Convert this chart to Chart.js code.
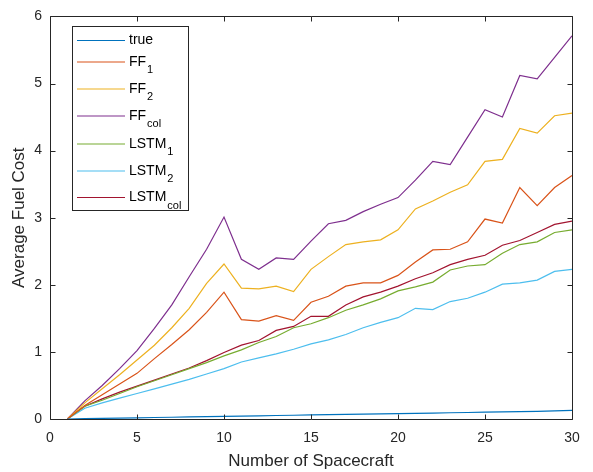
<!DOCTYPE html>
<html>
<head>
<meta charset="utf-8">
<script src="https://cdn.jsdelivr.net/npm/chart.js@4/dist/chart.umd.min.js"></script>
<style>
  html, body { margin: 0; padding: 0; background: #fff; }
  #wrap { width: 593px; height: 472px; position: relative; }
</style>
</head>
<body>
<div id="wrap"><canvas id="fuelChart"></canvas></div>
<script>
// Number of spacecraft (x values)
const spacecraft = [1, 2, 3, 4, 5, 6, 7, 8, 9, 10, 11, 12, 13, 14, 15, 16, 17, 18, 19, 20, 21, 22, 23, 24, 25, 26, 27, 28, 29, 30];

// Average fuel cost per method
const trueCost = [0, 0.005, 0.009, 0.013, 0.018, 0.022, 0.026, 0.031, 0.035, 0.04, 0.044, 0.048, 0.052, 0.056, 0.06, 0.064, 0.068, 0.072, 0.076, 0.08, 0.085, 0.089, 0.093, 0.097, 0.101, 0.106, 0.11, 0.115, 0.12, 0.13];
const ff1 = [0, 0.2, 0.36, 0.52, 0.68, 0.9, 1.11, 1.33, 1.59, 1.89, 1.48, 1.46, 1.54, 1.47, 1.74, 1.83, 1.98, 2.03, 2.03, 2.14, 2.34, 2.52, 2.53, 2.64, 2.98, 2.92, 3.45, 3.18, 3.45, 3.63];
const ff2 = [0, 0.24, 0.45, 0.66, 0.88, 1.1, 1.36, 1.65, 2.02, 2.31, 1.95, 1.94, 1.98, 1.9, 2.23, 2.42, 2.6, 2.64, 2.67, 2.82, 3.13, 3.25, 3.38, 3.49, 3.84, 3.87, 4.33, 4.26, 4.52, 4.56];
const ffCol = [0, 0.27, 0.5, 0.75, 1.02, 1.35, 1.7, 2.12, 2.53, 3.01, 2.38, 2.23, 2.4, 2.38, 2.65, 2.91, 2.96, 3.09, 3.2, 3.3, 3.56, 3.84, 3.79, 4.2, 4.61, 4.5, 5.12, 5.07, 5.39, 5.71];
const lstm1 = [0, 0.19, 0.28, 0.38, 0.48, 0.57, 0.66, 0.75, 0.84, 0.94, 1.03, 1.14, 1.23, 1.36, 1.42, 1.51, 1.62, 1.7, 1.79, 1.91, 1.97, 2.04, 2.22, 2.28, 2.3, 2.47, 2.6, 2.64, 2.78, 2.82];
const lstm2 = [0, 0.16, 0.24, 0.31, 0.38, 0.45, 0.52, 0.59, 0.67, 0.75, 0.85, 0.91, 0.97, 1.04, 1.12, 1.18, 1.26, 1.36, 1.44, 1.51, 1.65, 1.63, 1.75, 1.8, 1.89, 2.01, 2.03, 2.07, 2.2, 2.23];
const lstmCol = [0, 0.19, 0.3, 0.4, 0.49, 0.58, 0.67, 0.76, 0.87, 0.99, 1.1, 1.17, 1.32, 1.38, 1.53, 1.53, 1.7, 1.82, 1.89, 1.98, 2.09, 2.18, 2.3, 2.38, 2.44, 2.59, 2.66, 2.78, 2.9, 2.95];

// Legend names, "_" marks a subscript
const seriesNames = ['true', 'FF_1', 'FF_2', 'FF_col', 'LSTM_1', 'LSTM_2', 'LSTM_col'];
const seriesColors = ['#0072BD', '#D95319', '#EDB120', '#7E2F8E', '#77AC30', '#4DBEEE', '#A2142F'];
const seriesValues = [trueCost, ff1, ff2, ffCol, lstm1, lstm2, lstmCol];

const xTicks = [0, 5, 10, 15, 20, 25, 30];
const yTicks = [0, 1, 2, 3, 4, 5, 6];

const axisColor = '#262626';
const fontFamily = '"Liberation Sans", Arial, Helvetica, sans-serif';

const datasets = seriesNames.map(function(name, i) {
    return {
        label: name,
        data: spacecraft.map(function(x, j) { return { x: x, y: seriesValues[i][j] }; }),
        borderColor: seriesColors[i],
        backgroundColor: seriesColors[i],
        borderWidth: 1.2,
        pointRadius: 0,
        tension: 0,
        fill: false
    };
});

// MATLAB-style box, inward ticks and legend with subscripts
const matlabAxes = {
    id: 'matlabAxes',
    afterDatasetsDraw: function(chart) {
        const ctx = chart.ctx;
        const a = chart.chartArea;
        const xs = chart.scales.x;
        const ys = chart.scales.y;
        const L = Math.round(a.left) + 0.5, R = Math.round(a.right) + 0.5;
        const T = Math.round(a.top) + 0.5, B = Math.round(a.bottom) + 0.5;
        ctx.save();
        ctx.strokeStyle = axisColor;
        ctx.lineWidth = 1;
        ctx.beginPath();
        ctx.rect(L, T, R - L, B - T);
        xTicks.forEach(function(v) {
            const px = Math.round(xs.getPixelForValue(v)) + 0.5;
            ctx.moveTo(px, B); ctx.lineTo(px, B - 5);
            ctx.moveTo(px, T); ctx.lineTo(px, T + 5);
        });
        yTicks.forEach(function(v) {
            const py = Math.round(ys.getPixelForValue(v)) + 0.5;
            ctx.moveTo(L, py); ctx.lineTo(L + 5, py);
            ctx.moveTo(R, py); ctx.lineTo(R - 5, py);
        });
        ctx.stroke();

        // legend box
        const boxL = 72.5, boxT = 26.5, boxR = 188.5, boxB = 210.5;
        ctx.fillStyle = '#fff';
        ctx.fillRect(boxL, boxT, boxR - boxL, boxB - boxT);
        ctx.strokeStyle = axisColor;
        ctx.strokeRect(boxL, boxT, boxR - boxL, boxB - boxT);
        const rowY = [40.5, 62, 89, 116, 144, 171, 197.5];
        seriesNames.forEach(function(name, i) {
            const y = rowY[i];
            ctx.strokeStyle = seriesColors[i];
            ctx.lineWidth = 1.2;
            ctx.beginPath();
            ctx.moveTo(77, y); ctx.lineTo(125, y);
            ctx.stroke();
            const parts = name.split('_');
            ctx.fillStyle = '#000';
            ctx.textBaseline = 'middle';
            ctx.textAlign = 'left';
            ctx.font = '14px ' + fontFamily;
            ctx.fillText(parts[0], 129, y);
            if (parts[1]) {
                const w = ctx.measureText(parts[0]).width;
                ctx.font = '11px ' + fontFamily;
                ctx.fillText(parts[1], 129 + w + 1, y + 8);
            }
        });
        ctx.restore();
    }
};

new Chart(document.getElementById('fuelChart').getContext('2d'), {
    type: 'line',
    data: { datasets: datasets },
    options: {
        responsive: true,
        maintainAspectRatio: false,
        animation: false,
        layout: { padding: { top: 8, right: 21, left: 0, bottom: 0 } },
        plugins: {
            legend: { display: false },
            tooltip: { enabled: false }
        },
        scales: {
            x: {
                type: 'linear',
                min: 0,
                max: 30,
                afterBuildTicks: function(s) { s.ticks = xTicks.map(function(v) { return { value: v }; }); },
                afterFit: function(s) { s.height = 53; },
                grid: { display: false, drawTicks: false },
                border: { display: false },
                ticks: { color: axisColor, padding: 11, font: { family: fontFamily, size: 14 } },
                title: {
                    display: true,
                    text: 'Number of Spacecraft',
                    color: axisColor,
                    font: { family: fontFamily, size: 17 },
                    padding: { top: 4, bottom: 0 }
                }
            },
            y: {
                min: 0,
                max: 6,
                afterBuildTicks: function(s) { s.ticks = yTicks.map(function(v) { return { value: v }; }); },
                afterFit: function(s) { s.width = 50; },
                grid: { display: false, drawTicks: false },
                border: { display: false },
                ticks: { color: axisColor, padding: 8, font: { family: fontFamily, size: 14 } },
                title: {
                    display: true,
                    text: 'Average Fuel Cost',
                    color: axisColor,
                    font: { family: fontFamily, size: 17 },
                    padding: { top: 9, bottom: 0 }
                }
            }
        }
    },
    plugins: [matlabAxes]
});
</script>
</body>
</html>
